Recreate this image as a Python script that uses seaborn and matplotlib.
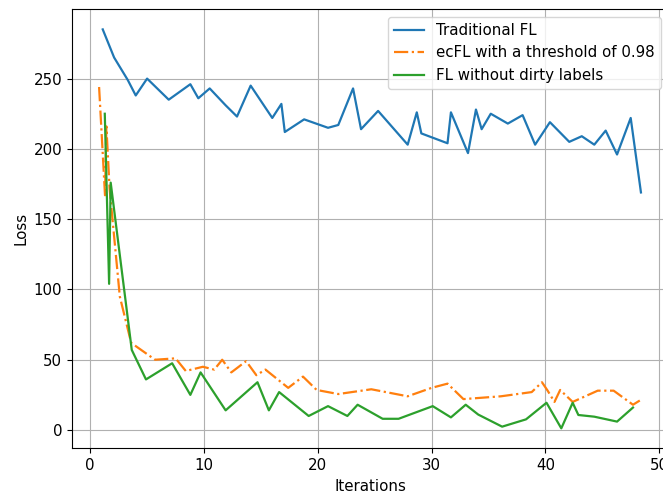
"""Loss curves: traditional FL vs ecFL vs clean-label FL"""
import matplotlib

matplotlib.use("Agg")
import matplotlib.pyplot as plt
import pandas as pd
import seaborn as sns

# Traditional FL
trad_x = [1.1, 2.1, 3.3, 4.0, 5.0, 6.9, 8.8, 9.5, 10.5, 11.9, 12.9, 14.1, 16.0,
          16.8, 17.1, 18.8, 20.9, 21.8, 23.1, 23.8, 25.3, 27.9, 28.7, 29.1,
          31.4, 31.7, 33.2, 33.9, 34.4, 35.2, 36.7, 38.0, 39.1, 40.4, 42.1,
          43.2, 44.3, 45.3, 46.3, 47.5, 48.4]
trad_loss = [285, 265, 249, 238, 250, 235, 246, 236, 243, 231, 223, 245, 222,
             232, 212, 221, 215, 217, 243, 214, 227, 203, 226, 211, 204, 226,
             197, 228, 214, 225, 218, 224, 203, 219, 205, 209, 203, 213, 196,
             222, 169]

# ecFL with threshold 0.98
ecfl_x = [0.78, 1.3, 1.42, 1.7, 2.6, 3.6, 5.7, 7.5, 8.4, 9.9, 10.9, 11.6, 12.4,
          13.7, 14.6, 15.4, 17.4, 18.7, 19.9, 21.8, 24.7, 27.9, 30.0, 31.4,
          32.8, 36.1, 38.8, 39.7, 40.2, 40.8, 41.3, 42.4, 44.6, 46.0, 47.7, 48.3]
ecfl_loss = [244, 167, 216, 172, 95, 62, 50, 51, 42, 45, 43, 50, 41, 49, 39,
             43, 30, 38, 28.5, 25.6, 29, 24, 30, 33, 22, 24, 27, 34, 28, 20,
             28.5, 20, 28, 28, 18, 21]

# FL without dirty labels
clean_x = [1.28, 1.66, 1.8, 3.65, 4.9, 7.2, 8.8, 9.7, 11.9, 14.7, 15.7, 16.6,
           19.2, 20.9, 22.6, 23.5, 25.7, 27.1, 30.1, 31.7, 33.0, 34.1, 36.2,
           38.3, 40.1, 41.4, 42.4, 42.9, 44.3, 46.3, 47.7]
clean_loss = [225, 104, 176, 57, 36, 47.5, 25, 41, 14, 34, 14, 27, 10, 17, 10,
              18, 8, 8, 17, 9, 18, 11, 2.4, 7.6, 19.4, 1.2, 19.4, 10.7, 9.5, 6,
              16]

series = [
    ("Traditional FL", trad_x, trad_loss, "tab:blue", "-"),
    ("ecFL with a threshold of 0.98", ecfl_x, ecfl_loss, "tab:orange", "-."),
    ("FL without dirty labels", clean_x, clean_loss, "tab:green", "-"),
]

plt.rcParams["font.size"] = 10.8

fig = plt.figure(figsize=(6.63, 4.97), dpi=100)
ax = fig.add_axes([0.1086, 0.098, 0.899, 0.883])

for name, xs, ys, color, ls in series:
    df = pd.DataFrame({"Iterations": xs, "Loss": ys})
    sns.lineplot(data=df, x="Iterations", y="Loss", ax=ax, color=color,
                 linestyle=ls, linewidth=1.6, label=name, estimator=None,
                 sort=False)

ax.grid(True)
ax.legend(loc="upper right")
ax.set_xlabel("Iterations")
ax.set_ylabel("Loss")

fig.savefig("out.png", dpi=100)
